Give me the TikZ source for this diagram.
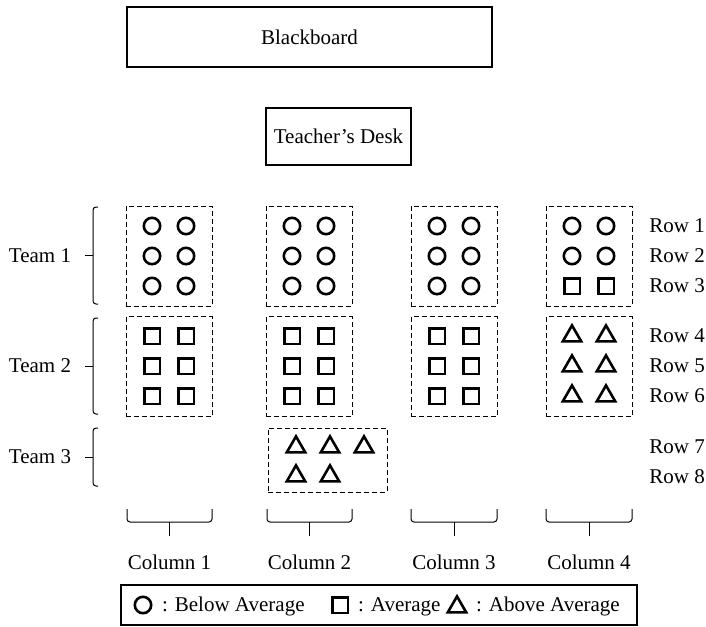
\documentclass[tikz,border=0pt]{standalone}
\usepackage{fontspec}
\setmainfont{Liberation Serif}
\usetikzlibrary{shapes.geometric}

\tikzset{
	plain box/.style={draw, rectangle, line width=0.6pt},
	team box/.style={draw, rectangle, dash pattern=on 2.5pt off 1.5pt, line width=0.45pt, minimum width=43pt, minimum height=50pt},
	below/.style={draw, circle, line width=1.3pt, minimum size=8.2pt, inner sep=0pt},
	average/.style={draw, rectangle, line width=1.3pt, minimum size=7.8pt, inner sep=0pt},
	above/.style={draw, regular polygon, regular polygon sides=3, line width=1.3pt, minimum size=10.6pt, inner sep=0pt},
	bracket/.style={line width=0.5pt, rounded corners=1.5pt}
}

\begin{document}
\begin{tikzpicture}[x=0.5pt, y=-0.5pt, font=\fontsize{10.5}{12.6}\selectfont]
	\useasboundingbox (0,0) rectangle (706,626);
	
	%Front of the room
	\node (blackboard) at (309.5,37) [plain box, minimum width=182.5pt, minimum height=30pt]{Blackboard};
	\node (desk) at (338.5,136.5) [plain box, minimum width=72.5pt, minimum height=28.5pt]{Teacher's Desk};
	
	%Desk groups
	\foreach \x [count=\c] in {169,309,454,589} {
		\node (t1c\c) at (\x,256) [team box]{};
		\node (t2c\c) at (\x,366.5) [team box]{};
	}
	\node (t3c2) at (327.5,460) [team box, minimum width=59.5pt, minimum height=32pt]{};
	
	%Students, team 1 and team 2
	\foreach \x/\last [count=\c] in {169/below,309/below,454/below,589/average} {
		\node (s\c1l) at (\x-17,226) [below]{};
		\node (s\c1r) at (\x+17,226) [below]{};
		\node (s\c2l) at (\x-17,256) [below]{};
		\node (s\c2r) at (\x+17,256) [below]{};
		\node (s\c3l) at (\x-17,286) [\last]{};
		\node (s\c3r) at (\x+17,286) [\last]{};
	}
	\foreach \x/\kind [count=\c] in {169/average,309/average,454/average,589/above}
		\foreach \y [count=\r from 4] in {336,366,396} {
			\node (s\c\r l) at (\x-17,\y) [\kind]{};
			\node (s\c\r r) at (\x+17,\y) [\kind]{};
		}
	
	%Students, team 3
	\node (s27a) at (296,447) [above]{};
	\node (s27b) at (330,447) [above]{};
	\node (s27c) at (364,447) [above]{};
	\node (s28a) at (296,476) [above]{};
	\node (s28b) at (330,476) [above]{};
	
	%Rows
	\foreach \y [count=\r] in {226,256,286,336,366,396,447,477}
		\node (row\r) at (649,\y) [anchor=west, inner sep=0pt]{Row \r};
	
	%Teams
	\foreach \top/\bot [count=\t] in {207/304,318/414,428/486} {
		\draw[bracket] (98,\top) -| (93,\bot) -- (98,\bot);
		\draw[bracket] (93,{(\top+\bot)/2}) -- (85,{(\top+\bot)/2});
		\node (team\t) at (40,{(\top+\bot)/2}){Team \t};
	}
	
	%Columns
	\foreach \l/\r [count=\c] in {127/212,267/352,411/497,546/632} {
		\draw[bracket] (\l,509) |- (\r,522) -- (\r,509);
		\draw[bracket] ({(\l+\r)/2},522) -- ({(\l+\r)/2},536);
		\node (col\c) at ({(\l+\r)/2},562){Column \c};
	}
	
	%Legend
	\node (legend) at (379,605) [plain box, minimum width=258pt, minimum height=20pt]{};
	\node (keybelow) at (143,605) [below]{};
	\node (textbelow) at (155,611) [anchor=base west]{: Below Average};
	\node (keyaverage) at (340,605) [average]{};
	\node (textaverage) at (351,611) [anchor=base west]{: Average};
	\node (keyabove) at (457,607) [above]{};
	\node (textabove) at (469,611) [anchor=base west]{: Above Average};
	
\end{tikzpicture}
\end{document}
